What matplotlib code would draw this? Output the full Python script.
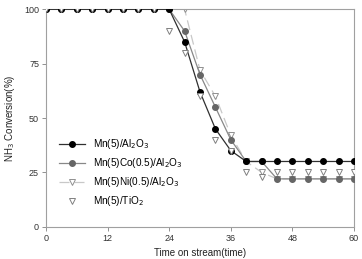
import matplotlib
matplotlib.use("Agg")
import matplotlib.pyplot as plt

time = [0, 3, 6, 9, 12, 15, 18, 21, 24, 27, 30, 33, 36, 39, 42, 45, 48, 51, 54, 57, 60]
mn_al = [100, 100, 100, 100, 100, 100, 100, 100, 100, 85, 62, 45, 35, 30, 30, 30, 30, 30, 30, 30, 30]
mnco_al = [100, 100, 100, 100, 100, 100, 100, 100, 100, 90, 70, 55, 40, 30, 30, 22, 22, 22, 22, 22, 22]
mnni_al = [100, 100, 100, 100, 100, 100, 100, 100, 100, 100, 72, 60, 42, 30, 25, 22, 22, 22, 22, 22, 22]
mn_ti = [100, 100, 100, 100, 100, 100, 100, 100, 90, 80, 60, 40, 35, 25, 23, 25, 25, 25, 25, 25, 25]

labels = ["Mn(5)/Al$_2$O$_3$", "Mn(5)Co(0.5)/Al$_2$O$_3$",
          "Mn(5)Ni(0.5)/Al$_2$O$_3$", "Mn(5)/TiO$_2$"]
xticks = [0, 12, 24, 36, 48, 60]
yticks = [0, 25, 50, 75, 100]

plt.rcParams['font.family'] = ['Liberation Sans', 'DejaVu Sans']
fig = plt.figure(figsize=(3.62, 2.59), dpi=100)
ax = fig.add_axes([46/362, 1-226.7/259, 308/362, 217.4/259])

ax.plot(time, mnni_al, color='#c8c8c8', lw=0.9, ls=(0, (8, 4)), marker='v',
        ms=4, mfc='white', mec='#909090', mew=0.7, label=labels[2], zorder=2)
ax.plot(time, mnco_al, color='#888888', lw=0.9, marker='o',
        ms=4, mfc='#666666', mec='#666666', label=labels[1], zorder=3)
ax.plot(time, mn_al, color='#303030', lw=0.9, marker='o',
        ms=4, mfc='black', mec='black', label=labels[0], zorder=4)
ax.plot(time, mn_ti, ls='none', marker='v',
        ms=4.4, mfc='white', mec='#808080', mew=0.7, label=labels[3], zorder=5)

ax.set_xlim(0, 60)
ax.set_ylim(0, 100)
ax.set_xticks(xticks)
ax.set_yticks(yticks)
ax.tick_params(labelsize=6.5, length=3, width=0.6, color='#808080', pad=2,
               labelcolor='#333333')
for s in ax.spines.values():
    s.set_color('#a0a0a0')
    s.set_linewidth(0.8)
ax.set_xlabel("Time on stream(time)", fontsize=7, labelpad=4, color='#222222')
ax.set_ylabel("NH$_3$ Conversion(%)", fontsize=7, labelpad=5, color='#222222')

h, l = ax.get_legend_handles_labels()
order = [2, 1, 0, 3]
ax.legend([h[i] for i in order], [l[i] for i in order], loc='upper left',
          bbox_to_anchor=(0.03, 0.43), frameon=False, fontsize=7.2,
          handlelength=2.6, labelspacing=0.5, borderaxespad=0, handletextpad=0.8)

fig.savefig("out.png", dpi=100)
